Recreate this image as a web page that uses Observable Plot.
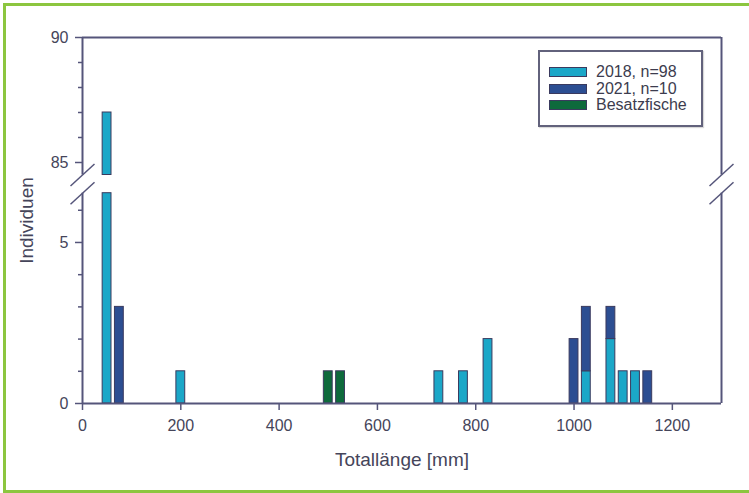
<!DOCTYPE html>
<html><head><meta charset="utf-8">
<script src="https://cdn.jsdelivr.net/npm/d3@7"></script>
<script src="https://cdn.jsdelivr.net/npm/@observablehq/plot@0.6"></script>
<style>
body{margin:0;background:#fff;}
#wrap{position:relative;width:749px;height:493px;overflow:hidden;font-family:"Liberation Sans",Arial,sans-serif;}
#chart{position:absolute;left:0;top:0;}
#border{position:absolute;left:3px;top:3px;width:800px;height:490px;box-sizing:border-box;border:3px solid #8cc63f;border-right:none;pointer-events:none;}
#legend{position:absolute;left:538px;top:50px;width:165px;height:77px;box-sizing:border-box;border:2px solid #62627c;background:#fff;box-shadow:1px 1px 1px rgba(0,0,0,0.15);}
.row{position:absolute;left:9px;height:16px;display:flex;align-items:center;font-size:16px;color:#3c3c4e;white-space:nowrap;}
.sw{width:38px;height:10px;border:1px solid #3a3a5e;margin-right:9px;box-sizing:border-box;}
</style></head>
<body>
<div id="wrap">
  <div id="chart"></div>
  <div id="legend"></div>
  <div id="border"></div>
</div>
<script>
// ---- data ----
const lengths = [50, 75, 200, 500, 525, 725, 775, 825, 1000, 1025, 1075, 1100, 1125, 1150];
const n2018   = [87, 0, 1, 0, 0, 1, 1, 2, 0, 1, 2, 1, 1, 0];
const n2021   = [0, 3, 0, 0, 0, 0, 0, 0, 2, 2, 1, 0, 0, 1];
const nBesatz = [0, 0, 0, 1, 1, 0, 0, 0, 0, 0, 0, 0, 0, 0];
const seriesNames = ["2018, n=98", "2021, n=10", "Besatzfische"];
const seriesColors = ["#1ba7c8", "#2c4e92", "#0e6a3c"];
const xTicks = [0, 200, 400, 600, 800, 1000, 1200];
const yTicks = [0, 5, 85, 90];
const yMinorTicks = [1, 2, 3, 4, 6, 86, 87, 88, 89];
const xDomainMax = 1300;
const breakLow = 6.53, breakHigh = 84.5, yMax = 90;
const binHalf = 9;

const lineColor = "#55557a";
const textColor = "#45455a";

// broken-axis transform: lower segment 32.2 px/unit, gap, upper segment 25 px/unit
const brokenY = d3.scaleLinear()
  .domain([0, breakLow, breakHigh, yMax])
  .range([0, 210.3, 228.5, 366]);

// stacked, split around the axis break
const seriesValues = [n2018, n2021, nBesatz];
const bars = [];
lengths.forEach((L, i) => {
  let base = 0;
  seriesValues.forEach((arr, s) => {
    const v = arr[i];
    if (!v) return;
    const y1 = base, y2 = base + v;
    base = y2;
    if (y1 < breakLow) bars.push({x1: L - binHalf, x2: L + binHalf, y1, y2: Math.min(y2, breakLow), s: seriesNames[s]});
    if (y2 > breakHigh) bars.push({x1: L - binHalf, x2: L + binHalf, y1: Math.max(y1, breakHigh), y2, s: seriesNames[s]});
  });
});

const breaks = [
  {x: 0, y: breakLow}, {x: 0, y: breakHigh},
  {x: xDomainMax, y: breakLow}, {x: xDomainMax, y: breakHigh}
];
const slash = {draw(ctx) { ctx.moveTo(-12, 11); ctx.lineTo(12, -11); }};
const invLabel = d => String(Math.round(brokenY.invert(d)));

const chart = Plot.plot({
  width: 749, height: 493,
  marginLeft: 82, marginRight: 28, marginTop: 37, marginBottom: 90,
  x: {domain: [0, xDomainMax]},
  y: {transform: brokenY, domain: [brokenY(0), brokenY(yMax)]},
  color: {domain: seriesNames, range: seriesColors},
  style: {background: "transparent", fontFamily: "Liberation Sans, Arial, sans-serif", color: textColor},
  marks: [
    Plot.rect(bars, {x1: "x1", x2: "x2", y1: "y1", y2: "y2", fill: "s", stroke: "#3a3a5e", strokeWidth: 1}),
    Plot.ruleY([0, yMax], {stroke: lineColor, strokeWidth: 2}),
    Plot.ruleX([0, xDomainMax], {y1: 0, y2: breakLow, stroke: lineColor, strokeWidth: 2}),
    Plot.ruleX([0, xDomainMax], {y1: breakHigh, y2: yMax, stroke: lineColor, strokeWidth: 2}),
    Plot.dot(breaks, {x: "x", y: "y", symbol: slash, stroke: lineColor, strokeWidth: 1.5, fill: "none"}),
    Plot.axisX({ticks: xTicks, tickSize: 7, tickPadding: 9, fontSize: 16, tickFormat: d => String(d), stroke: lineColor, strokeWidth: 1.5, label: null}),
    Plot.axisY({ticks: yTicks.map(brokenY), tickSize: 7, tickPadding: 7, fontSize: 16, tickFormat: invLabel, stroke: lineColor, strokeWidth: 1.5, label: null}),
    Plot.axisY({ticks: yMinorTicks.map(brokenY), tickSize: 4, tickFormat: () => "", stroke: lineColor, strokeWidth: 1.5, label: null}),
    Plot.text(["Totallänge [mm]"], {frameAnchor: "bottom", lineAnchor: "middle", dy: 56, fontSize: 19, fill: textColor}),
    Plot.text(["Individuen"], {frameAnchor: "left", textAnchor: "middle", lineAnchor: "middle", dx: -56, rotate: -90, fontSize: 19, fill: textColor})
  ]
});
document.getElementById("chart").appendChild(chart);

// legend
const legend = document.getElementById("legend");
const rowTops = [12, 28.5, 45];
seriesNames.forEach((name, i) => {
  const row = document.createElement("div");
  row.className = "row";
  row.style.top = rowTops[i] + "px";
  const sw = document.createElement("div");
  sw.className = "sw";
  sw.style.background = seriesColors[i];
  row.appendChild(sw);
  row.appendChild(document.createTextNode(name));
  legend.appendChild(row);
});
</script>
</body></html>
